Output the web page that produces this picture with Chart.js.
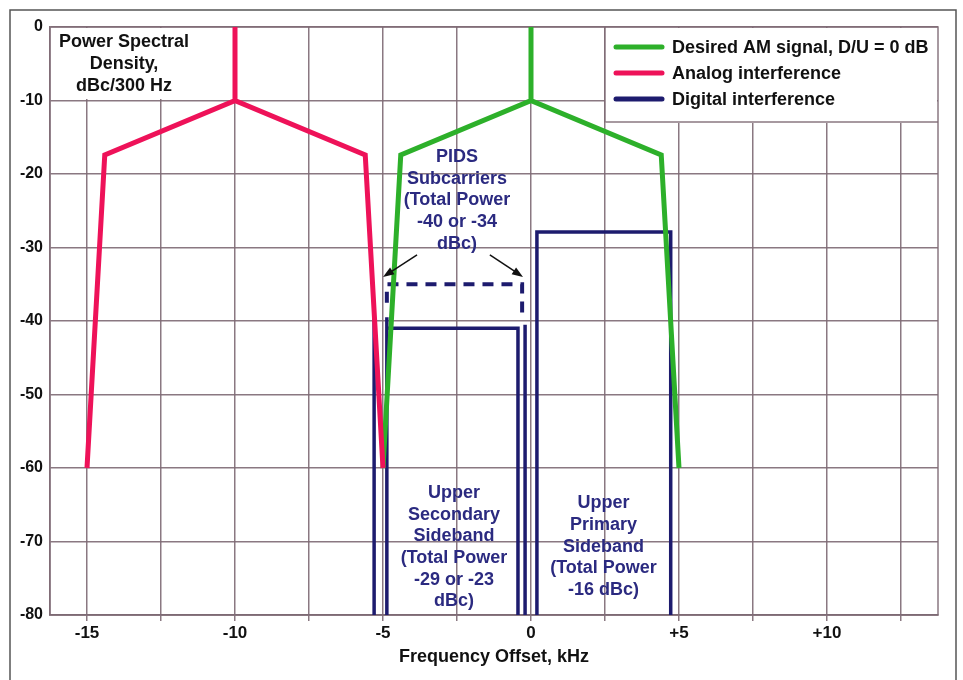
<!DOCTYPE html>
<html>
<head>
<meta charset="utf-8">
<script src="https://cdn.jsdelivr.net/npm/chart.js@4.4.0/dist/chart.umd.min.js"></script>
<style>
  html, body { margin: 0; padding: 0; background: #fff; }
  #wrap { width: 963px; height: 680px; }
</style>
</head>
<body>
<div id="wrap"><canvas id="psd-chart" width="963" height="680"></canvas></div>
<script>
// x grid every 2.5 kHz, labels only every 5
const xGridValues = [-15, -12.5, -10, -7.5, -5, -2.5, 0, 2.5, 5, 7.5, 10, 12.5];
const xTickLabels = ['-15', '', '-10', '', '-5', '', '0', '', '+5', '', '+10', ''];

// Desired AM signal, D/U = 0 dB
const desiredX = [-5, -4.4, 0, 0, 0, 4.4, 5];
const desiredY = [-60, -17.4, -10, 0, -10, -17.4, -60];

// Analog interference (adjacent channel at -10 kHz)
const analogX = [-15, -14.4, -10, -10, -10, -5.6, -5];
const analogY = [-60, -17.4, -10, 0, -10, -17.4, -60];

// Digital interference
const outerX = [-5.3, -5.3];
const outerY = [-80, -39.5];
const secondaryX = [-4.87, -4.87, -4.87, -0.44, -0.44];
const secondaryY = [-80, -39.5, -41, -41, -80];
const innerX = [-0.2, -0.2];
const innerY = [-80, -40.5];
const primaryX = [0.2, 0.2, 4.72, 4.72];
const primaryY = [-80, -27.9, -27.9, -80];
const pidsX = [-4.87, -4.87, -0.3, -0.3];
const pidsY = [-37.5, -35, -35, -39.2];

const RED = '#ee1259';
const GREEN = '#2db02a';
const NAVY = '#1d1b6e';
const TEXT_NAVY = '#2b2a80';
const GRID = 'rgba(125,105,115,0.9)';
const FONT = "'Liberation Sans', Arial, sans-serif";

function pts(xs, ys) {
    return xs.map((x, i) => ({x: x, y: ys[i]}));
}

function navySet(xs, ys, dashed) {
    return {
        data: pts(xs, ys),
        borderColor: NAVY,
        borderWidth: dashed ? 4 : 3.5,
        borderDash: dashed ? [11, 8] : [],
        pointRadius: 0,
        order: 2,
    };
}

const annotations = [
    {x: -2.5, y: -17.7, lines: ['PIDS', 'Subcarriers', '(Total Power', '-40 or -34', 'dBc)']},
    {x: -2.6, y: -63.4, lines: ['Upper', 'Secondary', 'Sideband', '(Total Power', '-29 or -23', 'dBc)']},
    {x: 2.45, y: -64.8, lines: ['Upper', 'Primary', 'Sideband', '(Total Power', '-16 dBc)']},
];
const arrows = [
    {from: [-3.85, -31], to: [-5.0, -34]},
    {from: [-1.39, -31], to: [-0.27, -34]},
];
const legendItems = [
    {label: 'Desired AM signal, D/U = 0 dB', color: GREEN},
    {label: 'Analog interference', color: RED},
    {label: 'Digital interference', color: NAVY},
];
const titleLines = ['Power Spectral', 'Density,', 'dBc/300 Hz'];

const boxesPlugin = {
    id: 'boxes',
    beforeDraw(chart) {
        const c = chart.ctx;
        c.save();
        c.fillStyle = '#fff';
        c.fillRect(0, 0, chart.width, chart.height);
        c.strokeStyle = '#555';
        c.lineWidth = 1.5;
        c.strokeRect(10, 10, 946, 690);
        c.restore();
    },
    beforeDatasetsDraw(chart) {
        const c = chart.ctx;
        const a = chart.chartArea;
        c.save();
        c.strokeStyle = GRID;
        c.lineWidth = 1.5;
        c.strokeRect(a.left, a.top, a.right - a.left, a.bottom - a.top);

        // title box
        c.fillStyle = '#fff';
        c.fillRect(a.left + 1, a.top + 1, 150, 71);
        c.fillStyle = '#111';
        c.font = 'bold 18px ' + FONT;
        c.textAlign = 'center';
        c.textBaseline = 'middle';
        titleLines.forEach((t, i) => c.fillText(t, a.left + 74, a.top + 15 + i * 22));

        // legend box
        const lx = 605, ly = a.top, lw = a.right - lx, lh = 95;
        c.fillStyle = '#fff';
        c.fillRect(lx, ly + 1, lw - 1, lh);
        c.strokeStyle = GRID;
        c.beginPath();
        c.moveTo(lx, ly);
        c.lineTo(lx, ly + lh);
        c.lineTo(a.right, ly + lh);
        c.stroke();
        c.textAlign = 'left';
        c.font = 'bold 18px ' + FONT;
        legendItems.forEach((it, i) => {
            const y = ly + 20 + i * 26;
            c.strokeStyle = it.color;
            c.lineWidth = 5;
            c.lineCap = 'round';
            c.beginPath();
            c.moveTo(616, y);
            c.lineTo(662, y);
            c.stroke();
            c.fillStyle = '#111';
            c.fillText(it.label, 672, y + 1);
        });
        c.restore();
    },
    afterDatasetsDraw(chart) {
        const c = chart.ctx;
        const xs = chart.scales.x, ys = chart.scales.y;
        c.save();
        c.fillStyle = TEXT_NAVY;
        c.font = 'bold 18px ' + FONT;
        c.textAlign = 'center';
        c.textBaseline = 'middle';
        annotations.forEach(an => {
            const px = xs.getPixelForValue(an.x);
            const py = ys.getPixelForValue(an.y);
            an.lines.forEach((t, i) => c.fillText(t, px, py + i * 21.7));
        });
        c.strokeStyle = '#111';
        c.fillStyle = '#111';
        c.lineWidth = 1.5;
        arrows.forEach(ar => {
            const x1 = xs.getPixelForValue(ar.from[0]), y1 = ys.getPixelForValue(ar.from[1]);
            const x2 = xs.getPixelForValue(ar.to[0]), y2 = ys.getPixelForValue(ar.to[1]);
            const ang = Math.atan2(y2 - y1, x2 - x1);
            c.beginPath();
            c.moveTo(x1, y1);
            c.lineTo(x2 - 8 * Math.cos(ang), y2 - 8 * Math.sin(ang));
            c.stroke();
            c.beginPath();
            c.moveTo(x2, y2);
            c.lineTo(x2 - 11 * Math.cos(ang) + 4 * Math.sin(ang), y2 - 11 * Math.sin(ang) - 4 * Math.cos(ang));
            c.lineTo(x2 - 11 * Math.cos(ang) - 4 * Math.sin(ang), y2 - 11 * Math.sin(ang) + 4 * Math.cos(ang));
            c.closePath();
            c.fill();
        });
        c.restore();
    }
};

const ctx = document.getElementById('psd-chart').getContext('2d');
const psdChart = new Chart(ctx, {
    type: 'line',
    data: {
        datasets: [
            {data: pts(analogX, analogY), borderColor: RED, borderWidth: 5, pointRadius: 0, order: 0},
            {data: pts(desiredX, desiredY), borderColor: GREEN, borderWidth: 5, pointRadius: 0, order: 1},
            navySet(outerX, outerY),
            navySet(secondaryX, secondaryY),
            navySet(innerX, innerY),
            navySet(primaryX, primaryY),
            navySet(pidsX, pidsY, true),
        ]
    },
    options: {
        responsive: false,
        animation: false,
        layout: {
            padding: {left: 0, right: 25, top: 27, bottom: 0}
        },
        plugins: {
            legend: {display: false},
            tooltip: {enabled: false}
        },
        scales: {
            x: {
                type: 'linear',
                min: -16.25,
                max: 13.75,
                afterBuildTicks: (axis) => {
                    axis.ticks = xGridValues.map(v => ({value: v}));
                },
                afterFit: (axis) => { axis.height = 65; },
                ticks: {
                    autoSkip: false,
                    maxRotation: 0,
                    padding: 2,
                    color: '#111',
                    font: {family: FONT, size: 17, weight: 'bold'},
                    callback: (v, i) => xTickLabels[i]
                },
                grid: {color: GRID, lineWidth: 1.5, tickLength: 6, tickColor: GRID},
                border: {color: GRID, width: 1.5},
                title: {
                    display: true,
                    text: 'Frequency Offset, kHz',
                    color: '#111',
                    font: {family: FONT, size: 18, weight: 'bold'},
                    padding: {top: 0, bottom: 12}
                }
            },
            y: {
                min: -80,
                max: 0,
                afterFit: (axis) => { axis.width = 50; },
                ticks: {
                    stepSize: 10,
                    padding: 7,
                    color: '#111',
                    font: {family: FONT, size: 16, weight: 'bold'}
                },
                grid: {color: GRID, lineWidth: 1.5, drawTicks: false},
                border: {color: GRID, width: 1.5}
            }
        }
    },
    plugins: [boxesPlugin]
});
</script>
</body>
</html>
